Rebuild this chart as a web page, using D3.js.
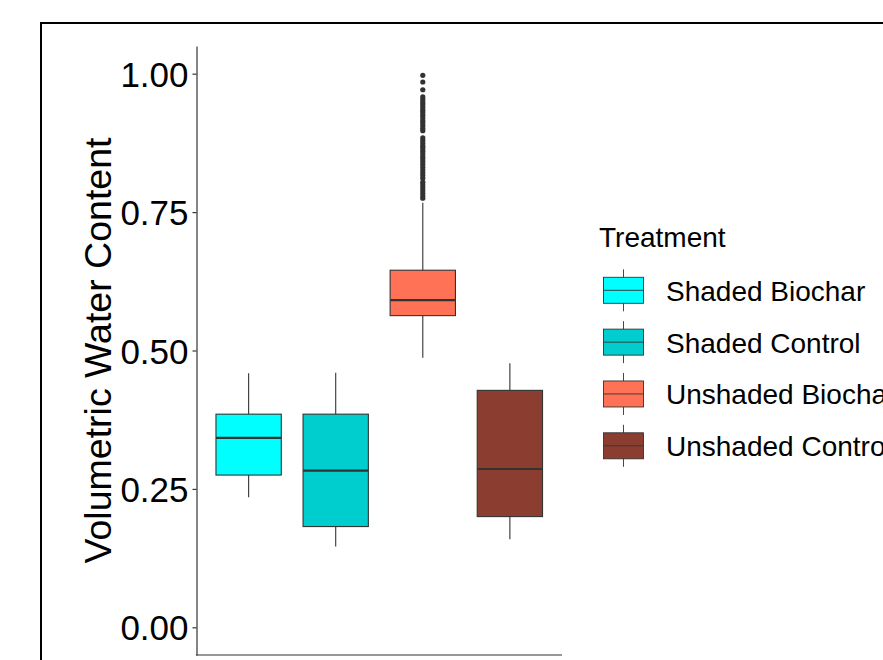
<!DOCTYPE html>
<html><head><meta charset="utf-8">
<script src="https://cdn.jsdelivr.net/npm/d3@7/dist/d3.min.js"></script>
<style>html,body{margin:0;padding:0;background:#fff;overflow:hidden}</style>
</head><body>
<svg id="c" width="883" height="660"></svg>
<script>
const treatments = ["Shaded Biochar", "Shaded Control", "Unshaded Biochar", "Unshaded Control"];
const colors = ["#00FFFF", "#00CDCD", "#FF7256", "#8B3E2F"];
const whiskerLow = [0.235, 0.146, 0.487, 0.159];
const q1 = [0.275, 0.182, 0.563, 0.200];
const median = [0.342, 0.283, 0.591, 0.286];
const q3 = [0.385, 0.385, 0.645, 0.428];
const whiskerHigh = [0.459, 0.460, 0.767, 0.477];
const outliersUnshadedBiochar = [0.997, 0.985, 0.971, 0.958, 0.953, 0.948, 0.944, 0.939, 0.934, 0.930, 0.925, 0.920, 0.915, 0.911, 0.906, 0.901, 0.897,
  0.884, 0.879, 0.874, 0.869, 0.865, 0.860, 0.855, 0.850, 0.846, 0.841, 0.836, 0.831, 0.826, 0.821, 0.816, 0.811,
  0.804, 0.799, 0.794, 0.789, 0.784, 0.779, 0.775];
const yTicks = [0, 0.25, 0.5, 0.75, 1.0];
const yTitle = "Volumetric Water Content";
const legendTitle = "Treatment";

const svg = d3.select("#c");
const font = "'Liberation Sans', Arial, Helvetica, sans-serif";
const dark = "#333333";

// outer frame (extends past the visible area)
svg.append("rect").attr("x", 41).attr("y", 23).attr("width", 1000).attr("height", 1000)
  .attr("fill", "none").attr("stroke", "#000").attr("stroke-width", 2);

const plotL = 196.5, plotR = 562, plotT = 46, plotB = 655;
const y = d3.scaleLinear().domain([-0.05, 1.05]).range([plotB, plotT]);
const groupW = (plotR - plotL) * 0.953;
const gc = (plotL + plotR) / 2;
const x = d3.scaleBand().domain(treatments).range([gc - groupW / 2, gc + groupW / 2])
  .paddingInner(0.25).paddingOuter(0.125);

// y axis
const yAxis = svg.append("g").attr("transform", `translate(${plotL},0)`)
  .call(d3.axisLeft(y).tickValues(yTicks).tickFormat(d3.format(".2f")).tickSize(4).tickPadding(4).tickSizeOuter(0));
yAxis.select(".domain").attr("stroke", dark).attr("stroke-width", 1.2);
yAxis.selectAll(".tick line").attr("stroke", dark).attr("stroke-width", 1.2);
yAxis.selectAll(".tick text").attr("fill", "#000").attr("font-size", 35).attr("font-family", font).attr("dy", "0.36em");

// x axis line
svg.append("line").attr("x1", plotL - 0.6).attr("x2", plotR).attr("y1", plotB).attr("y2", plotB)
  .attr("stroke", dark).attr("stroke-width", 1.2);

// y title
svg.append("text").attr("transform", `translate(111,${(plotT + plotB) / 2}) rotate(-90)`)
  .attr("text-anchor", "middle").attr("font-size", 37.5).attr("font-family", font).attr("fill", "#000")
  .text(yTitle);

// boxes
treatments.forEach((t, i) => {
  const g = svg.append("g");
  const cx = x(t) + x.bandwidth() / 2;
  g.append("line").attr("x1", cx).attr("x2", cx).attr("y1", y(whiskerHigh[i])).attr("y2", y(q3[i]))
    .attr("stroke", dark).attr("stroke-width", 1.1);
  g.append("line").attr("x1", cx).attr("x2", cx).attr("y1", y(q1[i])).attr("y2", y(whiskerLow[i]))
    .attr("stroke", dark).attr("stroke-width", 1.1);
  g.append("rect").attr("x", x(t)).attr("width", x.bandwidth())
    .attr("y", y(q3[i])).attr("height", y(q1[i]) - y(q3[i]))
    .attr("fill", colors[i]).attr("stroke", dark).attr("stroke-width", 1.1);
  g.append("line").attr("x1", x(t)).attr("x2", x(t) + x.bandwidth()).attr("y1", y(median[i])).attr("y2", y(median[i]))
    .attr("stroke", dark).attr("stroke-width", 2.2);
  if (t === "Unshaded Biochar") {
    g.selectAll("circle").data(outliersUnshadedBiochar).join("circle")
      .attr("cx", cx).attr("cy", d => y(d)).attr("r", 2.6).attr("fill", dark);
  }
});

// legend
svg.append("text").attr("x", 599).attr("y", 247).attr("font-size", 28).attr("font-family", font)
  .attr("fill", "#000").text(legendTitle);
const legY = d3.scalePoint().domain(treatments).range([290.3, 445.8]);
treatments.forEach((t, i) => {
  const cy = legY(t), kx = 603.5, kw = 40, kh = 26, kc = kx + kw / 2;
  const g = svg.append("g");
  g.append("line").attr("x1", kc).attr("x2", kc).attr("y1", cy - 21).attr("y2", cy + 21)
    .attr("stroke", dark).attr("stroke-width", 0.9);
  g.append("rect").attr("x", kx).attr("y", cy - kh / 2).attr("width", kw).attr("height", kh)
    .attr("fill", colors[i]).attr("stroke", dark).attr("stroke-width", 0.9);
  g.append("line").attr("x1", kx).attr("x2", kx + kw).attr("y1", cy).attr("y2", cy)
    .attr("stroke", dark).attr("stroke-width", 0.9);
  g.append("text").attr("x", 666).attr("y", cy + 10.5).attr("font-size", 28).attr("font-family", font)
    .attr("fill", "#000").text(t);
});
</script>
</body></html>
